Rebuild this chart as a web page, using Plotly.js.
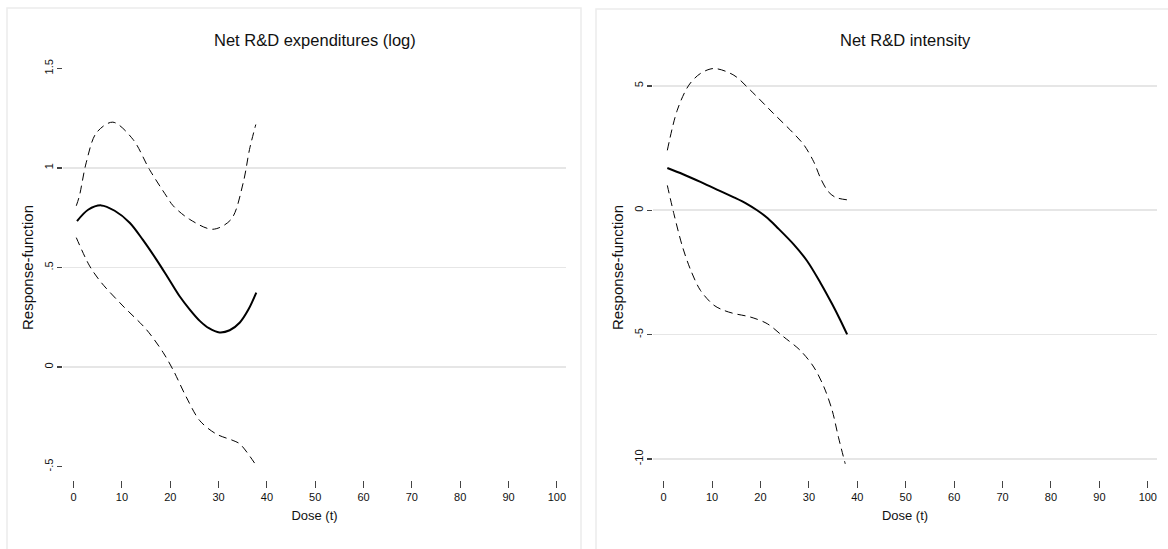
<!DOCTYPE html>
<html>
<head>
<meta charset="utf-8">
<script src="https://cdn.plot.ly/plotly-3.0.1.min.js"></script>
<style>html,body{margin:0;padding:0;background:#fff;}#chart{width:1168px;height:549px;}</style>
</head>
<body>
<div id="chart"></div>
<script>
// Panel titles and axis labels
const panelTitles = ["Net R&D expenditures (log)", "Net R&D intensity"];
const xTitle = "Dose (t)";
const yTitle = "Response-function";
const xTickVals = [0, 10, 20, 30, 40, 50, 60, 70, 80, 90, 100];

// Left panel: Net R&D expenditures (log)
const leftYTickVals = [-0.5, 0, 0.5, 1, 1.5];
const leftYTickText = ["-.5", "0", ".5", "1", "1.5"];
const leftMidX = [0.7, 3, 5.7, 8.5, 11.6, 14.3, 17.1, 19.5, 21.9, 24, 26.1, 28, 30.2, 32.3, 34.4, 36.2, 37.8];
const leftMidY = [0.733, 0.79, 0.812, 0.785, 0.725, 0.64, 0.541, 0.45, 0.357, 0.29, 0.232, 0.195, 0.174, 0.185, 0.224, 0.29, 0.374];
const leftUpX = [0.55, 1.2, 2.6, 4.7, 8.1, 12.3, 15.7, 19.2, 20.6, 24.0, 28.8, 32.6, 35.1, 36.4, 37.7];
const leftUpY = [0.81, 0.86, 1.026, 1.176, 1.23, 1.143, 0.992, 0.859, 0.81, 0.742, 0.692, 0.742, 0.926, 1.093, 1.218];
const leftLoX = [0.55, 3.3, 5.7, 10.2, 15.0, 18.5, 20.6, 23.3, 26.1, 29.5, 33.0, 34.4, 37.8];
const leftLoY = [0.65, 0.508, 0.425, 0.307, 0.19, 0.074, -0.015, -0.15, -0.269, -0.336, -0.369, -0.386, -0.495];

// Right panel: Net R&D intensity
const rightYTickVals = [-10, -5, 0, 5];
const rightYTickText = ["-10", "-5", "0", "5"];
const rightMidX = [0.76, 4, 7.6, 11, 14.5, 17, 19.3, 21.5, 23.4, 26.9, 29.6, 32.4, 34.8, 36.5, 37.9];
const rightMidY = [1.70, 1.45, 1.14, 0.83, 0.52, 0.28, 0, -0.32, -0.68, -1.38, -2.03, -2.92, -3.77, -4.42, -4.99];
const rightUpX = [0.76, 2.8, 5.2, 7.6, 10.4, 14.5, 17.9, 22.7, 26.9, 29.0, 31.0, 32.5, 34.0, 35.5, 37.9];
const rightUpY = [2.41, 4.02, 5.03, 5.5, 5.70, 5.43, 4.83, 3.89, 3.08, 2.62, 1.95, 1.25, 0.75, 0.52, 0.42];
const rightLoX = [0.76, 2.1, 3.9, 5.6, 7.6, 10.4, 12.4, 14.5, 17.9, 21.4, 24.8, 28.2, 31.0, 33.1, 34.8, 36.1, 37.5];
const rightLoY = [1.0, -0.13, -1.47, -2.41, -3.22, -3.82, -4.02, -4.15, -4.29, -4.56, -5.09, -5.63, -6.30, -7.10, -8.04, -9.12, -10.19];

const FONT = "Liberation Sans, Arial, Helvetica, sans-serif";
const W = 1168, H = 549;
const px = v => v / W, py = v => 1 - v / H;

function line(x, y, xa, ya, dashed) {
  return {
    x: x, y: y, xaxis: xa, yaxis: ya, type: "scatter", mode: "lines",
    line: {color: "#000", width: dashed ? 1 : 2, dash: dashed ? "8px,5px" : "solid", shape: "spline", smoothing: 0.9},
    hoverinfo: "skip", showlegend: false
  };
}

const data = [
  line(leftUpX, leftUpY, "x", "y", true),
  line(leftLoX, leftLoY, "x", "y", true),
  line(leftMidX, leftMidY, "x", "y", false),
  line(rightUpX, rightUpY, "x2", "y2", true),
  line(rightLoX, rightLoY, "x2", "y2", true),
  line(rightMidX, rightMidY, "x2", "y2", false)
];

const yDom = [py(467), py(68)];
const tickPos = py(480);

function xAxis(domain) {
  return {
    domain: domain, range: [-2.2, 101.9], anchor: "free", position: tickPos,
    showgrid: false, zeroline: false, showline: false,
    tickmode: "array", tickvals: xTickVals, ticks: "outside", ticklen: 7, tickwidth: 1, tickcolor: "#444",
    tickfont: {family: FONT, size: 11, color: "#111"},
    title: {text: xTitle, font: {family: FONT, size: 13, color: "#111"}, standoff: 8},
    automargin: false, fixedrange: true
  };
}
function yAxis(range, vals, text, xref) {
  return {
    domain: yDom, range: range, anchor: xref,
    showgrid: true, gridcolor: "#e6e6e6", gridwidth: 1.6, zeroline: false, showline: false,
    tickmode: "array", tickvals: vals, ticktext: text, ticks: "outside", ticklen: 5, tickwidth: 1.2, tickcolor: "#444",
    tickangle: -90, tickfont: {family: FONT, size: 11, color: "#111"},
    title: {text: yTitle, font: {family: FONT, size: 15, color: "#111"}, standoff: 5},
    automargin: false, fixedrange: true
  };
}

const layout = {
  width: W, height: H, margin: {l: 0, r: 0, t: 0, b: 0},
  paper_bgcolor: "#fff", plot_bgcolor: "#fff",
  xaxis: xAxis([px(63), px(566)]),
  yaxis: yAxis([-0.502, 1.502], leftYTickVals, leftYTickText, "x"),
  xaxis2: xAxis([px(653), px(1157)]),
  yaxis2: yAxis([-10.32, 5.72], rightYTickVals, rightYTickText, "x2"),
  annotations: [
    {text: panelTitles[0], xref: "paper", yref: "paper", x: (px(63) + px(566)) / 2, y: py(40), xanchor: "center", yanchor: "middle", showarrow: false, font: {family: FONT, size: 16.5, color: "#111"}},
    {text: panelTitles[1], xref: "paper", yref: "paper", x: (px(653) + px(1157)) / 2, y: py(40), xanchor: "center", yanchor: "middle", showarrow: false, font: {family: FONT, size: 16.5, color: "#111"}}
  ],
  shapes: [
    {type: "rect", xref: "paper", yref: "paper", x0: px(7), x1: px(581), y0: -0.05, y1: py(8), line: {color: "#ececec", width: 1.5}, layer: "below"},
    {type: "rect", xref: "paper", yref: "paper", x0: px(596), x1: 1.05, y0: -0.05, y1: py(9), line: {color: "#ececec", width: 1.5}, layer: "below"}
  ]
};

Plotly.newPlot("chart", data, layout, {displayModeBar: false, staticPlot: true});
</script>
</body>
</html>
